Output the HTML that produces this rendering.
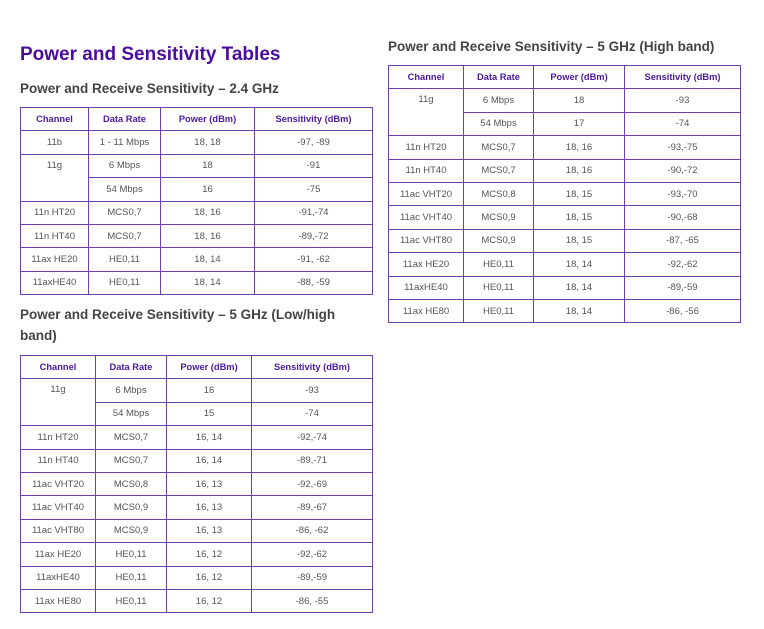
<!DOCTYPE html>
<html><head><style>
body{margin:0;width:764px;height:629px;background:#fff;font-family:"Liberation Sans",sans-serif;position:relative;overflow:hidden}
h1{position:absolute;left:20px;top:44px;margin:0;font-size:19px;color:#4a0d9e;font-weight:bold}
h2{position:absolute;margin:0;font-size:13.5px;color:#444;font-weight:bold;line-height:21px}
table{position:absolute;border-collapse:collapse;table-layout:fixed;border:1.5px solid #6b3fb0}
td,th{border:1.2px solid #6b3fb0;text-align:center;font-size:9.5px;color:#555;padding:0;height:22.4px;vertical-align:middle;font-weight:normal}
th{color:#4a1a9e;font-weight:bold;font-size:9.3px}
td.top{vertical-align:top;padding-top:5px}
</style></head><body>
<h1>Power and Sensitivity Tables</h1>
<h2 style="left:20px;top:78px">Power and Receive Sensitivity – 2.4 GHz</h2>
<table style="left:20px;top:107px;width:353px">
<colgroup><col style="width:68px"><col style="width:72px"><col style="width:94px"><col></colgroup>
<tr><th>Channel</th><th>Data Rate</th><th>Power (dBm)</th><th>Sensitivity (dBm)</th></tr>
<tr><td>11b</td><td>1 - 11 Mbps</td><td>18, 18</td><td>-97, -89</td></tr>
<tr><td rowspan="2" class="top">11g</td><td>6 Mbps</td><td>18</td><td>-91</td></tr>
<tr><td>54 Mbps</td><td>16</td><td>-75</td></tr>
<tr><td>11n HT20</td><td>MCS0,7</td><td>18, 16</td><td>-91,-74</td></tr>
<tr><td>11n HT40</td><td>MCS0,7</td><td>18, 16</td><td>-89,-72</td></tr>
<tr><td>11ax HE20</td><td>HE0,11</td><td>18, 14</td><td>-91, -62</td></tr>
<tr><td>11axHE40</td><td>HE0,11</td><td>18, 14</td><td>-88, -59</td></tr>
</table>
<h2 style="left:20px;top:304px;width:350px">Power and Receive Sensitivity – 5 GHz (Low/high band)</h2>
<table style="left:20px;top:355px;width:353px">
<colgroup><col style="width:75px"><col style="width:71px"><col style="width:85px"><col></colgroup>
<tr><th>Channel</th><th>Data Rate</th><th>Power (dBm)</th><th>Sensitivity (dBm)</th></tr>
<tr><td rowspan="2" class="top">11g</td><td>6 Mbps</td><td>16</td><td>-93</td></tr>
<tr><td>54 Mbps</td><td>15</td><td>-74</td></tr>
<tr><td>11n HT20</td><td>MCS0,7</td><td>16, 14</td><td>-92,-74</td></tr>
<tr><td>11n HT40</td><td>MCS0,7</td><td>16, 14</td><td>-89,-71</td></tr>
<tr><td>11ac VHT20</td><td>MCS0,8</td><td>16, 13</td><td>-92,-69</td></tr>
<tr><td>11ac VHT40</td><td>MCS0,9</td><td>16, 13</td><td>-89,-67</td></tr>
<tr><td>11ac VHT80</td><td>MCS0,9</td><td>16, 13</td><td>-86, -62</td></tr>
<tr><td>11ax HE20</td><td>HE0,11</td><td>16, 12</td><td>-92,-62</td></tr>
<tr><td>11axHE40</td><td>HE0,11</td><td>16, 12</td><td>-89,-59</td></tr>
<tr><td>11ax HE80</td><td>HE0,11</td><td>16, 12</td><td>-86, -55</td></tr>
</table>
<h2 style="left:388px;top:36px">Power and Receive Sensitivity – 5 GHz (High band)</h2>
<table style="left:388px;top:65px;width:353px">
<colgroup><col style="width:75px"><col style="width:70px"><col style="width:91px"><col></colgroup>
<tr><th>Channel</th><th>Data Rate</th><th>Power (dBm)</th><th>Sensitivity (dBm)</th></tr>
<tr><td rowspan="2" class="top">11g</td><td>6 Mbps</td><td>18</td><td>-93</td></tr>
<tr><td>54 Mbps</td><td>17</td><td>-74</td></tr>
<tr><td>11n HT20</td><td>MCS0,7</td><td>18, 16</td><td>-93,-75</td></tr>
<tr><td>11n HT40</td><td>MCS0,7</td><td>18, 16</td><td>-90,-72</td></tr>
<tr><td>11ac VHT20</td><td>MCS0,8</td><td>18, 15</td><td>-93,-70</td></tr>
<tr><td>11ac VHT40</td><td>MCS0,9</td><td>18, 15</td><td>-90,-68</td></tr>
<tr><td>11ac VHT80</td><td>MCS0,9</td><td>18, 15</td><td>-87, -65</td></tr>
<tr><td>11ax HE20</td><td>HE0,11</td><td>18, 14</td><td>-92,-62</td></tr>
<tr><td>11axHE40</td><td>HE0,11</td><td>18, 14</td><td>-89,-59</td></tr>
<tr><td>11ax HE80</td><td>HE0,11</td><td>18, 14</td><td>-86, -56</td></tr>
</table>
</body></html>
